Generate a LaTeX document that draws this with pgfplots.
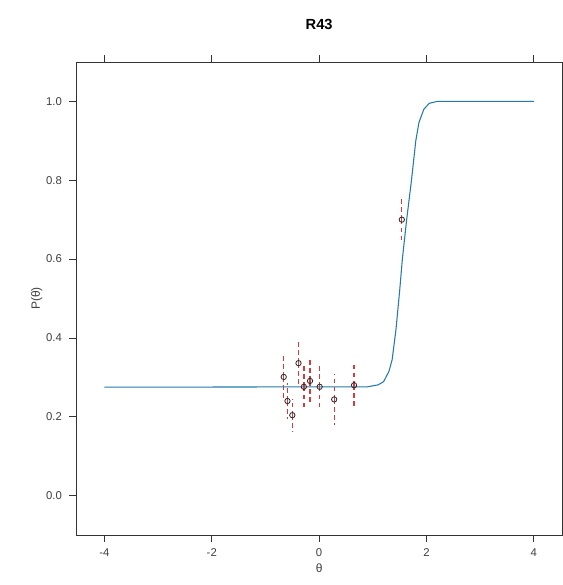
\documentclass[border=0pt]{standalone}
\usepackage{fontspec}
\setmainfont{Liberation Sans}
\usepackage{pgfplots}
\usepackage{pgfplotstable}
\pgfplotsset{compat=1.18}
\definecolor{curveBlue}{HTML}{2379AA}
\definecolor{barRed}{HTML}{D23C3C}

% observed proportions with error half-widths
\pgfplotstableread{
x      y      ey
-0.66  0.301  0.060
-0.59  0.240  0.045
-0.50  0.204  0.042
-0.385 0.336  0.060
-0.285 0.276  0.055
-0.17  0.291  0.053
0.01   0.276  0.060
0.28   0.244  0.064
0.65   0.280  0.060
1.54   0.700  0.060
}\obsdata

\begin{document}
\begin{tikzpicture}[x=1pt,y=1pt]
\begin{axis}[
    scale only axis,
    width=365pt, height=355pt,
    xmin=-4.53, xmax=4.53,
    ymin=-0.1, ymax=1.1,
    xtick={-4,-2,0,2,4},
    ytick={0,0.2,0.4,0.6,0.8,1.0},
    yticklabel style={/pgf/number format/fixed, /pgf/number format/fixed zerofill, /pgf/number format/precision=1, xshift=-2pt},
    /pgf/number format/assume math mode=true,
    tick align=outside,
    major tick length=5pt,
    xtick pos=both,
    ytick pos=left,
    tick style={black!80, line width=0.6pt},
    axis line style={black!80, line width=0.6pt},
    ticklabel style={font=\fontsize{8.5}{10}\selectfont, text=black!75},
    xticklabel style={yshift=-2pt},
    xlabel={θ},
    ylabel={P(θ)},
    label style={font=\fontsize{9}{10}\selectfont, text=black!75},
    xlabel style={yshift=2pt},
    ylabel style={yshift=-4pt},
    title={\textbf{R43}},
    title style={font=\fontsize{11}{13}\selectfont, yshift=15pt},
    clip=true,
]
\coordinate (sw) at (rel axis cs:0,0);
\coordinate (ne) at (rel axis cs:1,1);
\addplot[curveBlue, line width=0.8pt] coordinates {
    (-4,0.275) (0.9,0.276) (1.1,0.281) (1.2,0.289) (1.3,0.315)
    (1.36,0.345) (1.43,0.42) (1.5,0.52) (1.55,0.60) (1.63,0.70)
    (1.72,0.80) (1.8,0.90) (1.86,0.947) (1.95,0.98) (2.05,0.995)
    (2.2,1.0) (4,1.0)
};
\addplot[barRed, only marks, mark=o, mark size=2pt,
    mark options={black!85, solid, line width=0.6pt},
    error bars/.cd, y dir=both, y explicit,
    error mark=none,
    error bar style={barRed, line width=1pt, dash pattern=on 3.5pt off 2.5pt}]
    table[x=x, y=y, y error=ey] {\obsdata};
\end{axis}
\pgfresetboundingbox
\path[use as bounding box] ([xshift=-57pt,yshift=-37.5pt]sw) rectangle ([yshift=46.5pt]ne);
\end{tikzpicture}
\end{document}
